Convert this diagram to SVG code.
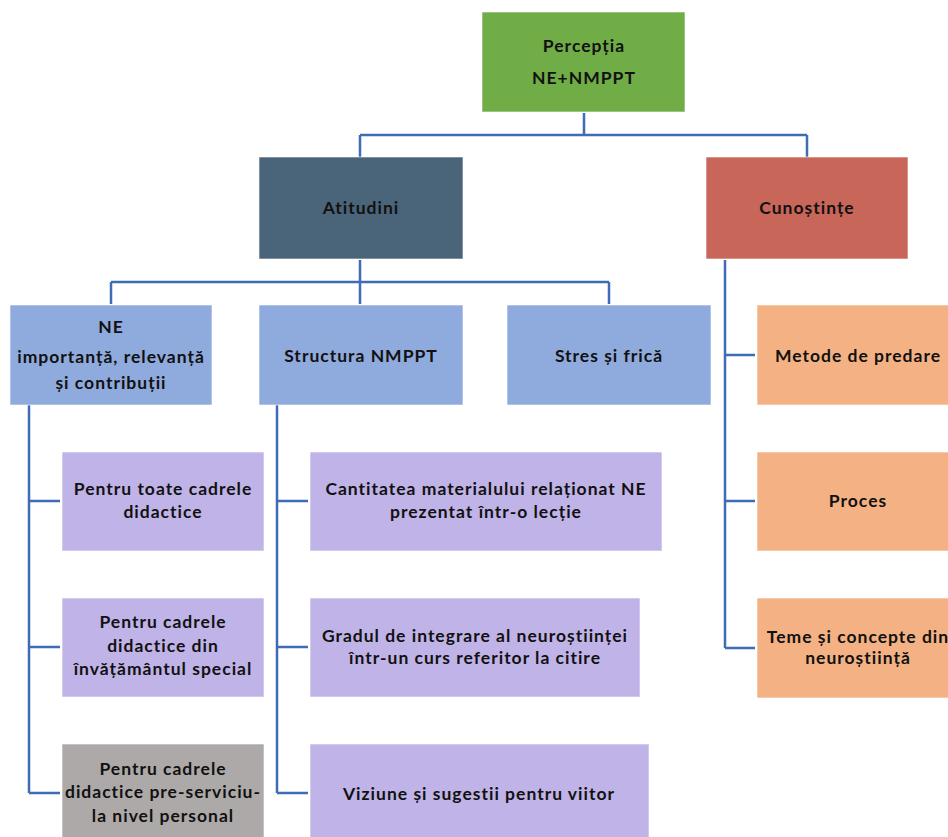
<svg xmlns="http://www.w3.org/2000/svg" width="948" height="837" viewBox="0 0 948 837">
<style>
.b{stroke:#ffffff;stroke-opacity:0.6;stroke-width:1}
.t{font-family:Lato,"Liberation Sans",sans-serif;font-weight:bold;font-size:17.5px;letter-spacing:1px;fill:#111;text-anchor:middle}
.c{fill:none;stroke:#3F6DB5;stroke-width:2.5}
</style>
<rect width="948" height="837" fill="#ffffff"/>
<g id="connectors">
<path class="c" d="M584 113V135M360 135H807M360 135V157M807 135V157"/>
<path class="c" d="M360 260V282M111 282H609M111 282V304M360 282V304M609 282V304"/>
<path class="c" d="M29 405V793M29 501H60M29 647H60M29 793H60"/>
<path class="c" d="M277 405V793M277 501H308M277 647H308M277 793H308"/>
<path class="c" d="M725 260V648M725 355H755M725 501H755M725 648H755"/>
</g>
<g id="n-percepcia"><rect class="b" x="482" y="12" width="203" height="100" fill="#70AD47"/><text class="t" x="584" y="52">Percepția</text><text class="t" x="584" y="84">NE+NMPPT</text></g>
<g id="n-atitudini"><rect class="b" x="259" y="157" width="204" height="102" fill="#4A6479"/><text class="t" x="361" y="214">Atitudini</text></g>
<g id="n-cunostinte"><rect class="b" x="706" y="157" width="202" height="102" fill="#C9665A"/><text class="t" x="807" y="214">Cunoștințe</text></g>
<g id="n-ne"><rect class="b" x="10" y="305" width="202" height="100" fill="#8FAADC"/><text class="t" x="111" y="333">NE</text><text class="t" x="111" y="363">importanță, relevanță</text><text class="t" x="111" y="389">și contribuții</text></g>
<g id="n-structura"><rect class="b" x="259" y="305" width="204" height="100" fill="#8FAADC"/><text class="t" x="361" y="362">Structura NMPPT</text></g>
<g id="n-stres"><rect class="b" x="507" y="305" width="204" height="100" fill="#8FAADC"/><text class="t" x="609" y="362">Stres și frică</text></g>
<g id="n-toate"><rect class="b" x="62" y="452" width="202" height="99" fill="#C0B3E8"/><text class="t" x="163" y="495">Pentru toate cadrele</text><text class="t" x="163" y="518">didactice</text></g>
<g id="n-special"><rect class="b" x="62" y="598" width="202" height="99" fill="#C0B3E8"/><text class="t" x="163" y="628">Pentru cadrele</text><text class="t" x="163" y="652">didactice din</text><text class="t" x="163" y="675">învățământul special</text></g>
<g id="n-preserviciu"><rect class="b" x="62" y="744" width="202" height="100" fill="#ADA9A8"/><text class="t" x="163" y="775">Pentru cadrele</text><text class="t" x="163" y="798">didactice pre-serviciu-</text><text class="t" x="163" y="822">la nivel personal</text></g>
<g id="n-cantitatea"><rect class="b" x="310" y="452" width="352" height="99" fill="#C0B3E8"/><text class="t" x="486" y="495">Cantitatea materialului relaționat NE</text><text class="t" x="486" y="518">prezentat într-o lecție</text></g>
<g id="n-gradul"><rect class="b" x="310" y="598" width="330" height="99" fill="#C0B3E8"/><text class="t" x="475" y="642">Gradul de integrare al neuroștiinței</text><text class="t" x="475" y="664">într-un curs referitor la citire</text></g>
<g id="n-viziune"><rect class="b" x="310" y="744" width="339" height="100" fill="#C0B3E8"/><text class="t" x="479" y="800">Viziune și sugestii pentru viitor</text></g>
<g id="n-metode"><rect class="b" x="757" y="305" width="202" height="100" fill="#F4B183"/><text class="t" x="858" y="362">Metode de predare</text></g>
<g id="n-proces"><rect class="b" x="757" y="452" width="202" height="99" fill="#F4B183"/><text class="t" x="858" y="507">Proces</text></g>
<g id="n-teme"><rect class="b" x="757" y="598" width="202" height="100" fill="#F4B183"/><text class="t" x="858" y="643">Teme și concepte din</text><text class="t" x="858" y="664">neuroștiință</text></g>
</svg>
